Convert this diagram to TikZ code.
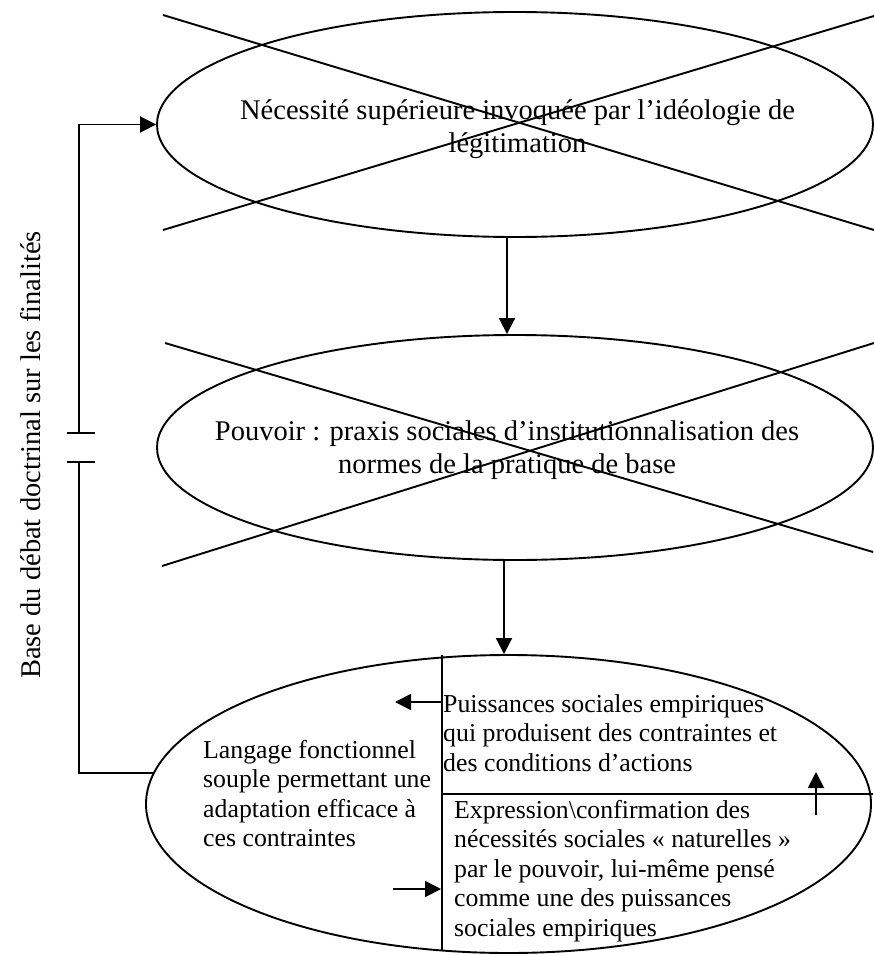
\documentclass[tikz,border=0pt]{standalone}
\usepackage{fontspec}
\setmainfont{Liberation Serif}
\usetikzlibrary{arrows.meta,shapes.geometric}
\begin{document}
\begin{tikzpicture}[x=1pt,y=-1pt,
  ln/.style={line width=1.9pt},
  arr/.style={ln,-{Triangle[length=16pt,width=16pt]}},
  oval/.style={ellipse,draw,ln,inner sep=0pt},
  bigtxt/.style={inner sep=0pt,font=\fontsize{28.5pt}{33pt}\selectfont},
  smalltxt/.style={inner sep=0pt,font=\fontsize{25.8pt}{29.5pt}\selectfont,align=left,anchor=base west}]
\useasboundingbox (0,0) rectangle (874,955);
% ellipses
\node[oval,minimum width=716pt,minimum height=225pt] (e1) at (515,124.5) {};
\node[oval,minimum width=716pt,minimum height=225pt] (e2) at (515,447.5) {};
\node[oval,minimum width=725pt,minimum height=298pt] (e3) at (508.5,804) {};
% crosses
\draw[ln] (163,15) -- (874,230);
\draw[ln] (163,230) -- (874,16);
\draw[ln] (165,343) -- (873,552);
\draw[ln] (162,566) -- (874,343);
% dividers in bottom ellipse
\draw[ln] (442,655) -- (442,951);
\draw[ln] (442,794) -- (873,794);
% texts (base anchor = baseline of the last line)
\node[bigtxt,align=center,anchor=base] (t1) at (517.5,153) {Nécessité supérieure invoquée par l’idéologie de\\légitimation};
\node[bigtxt,align=center,anchor=base] (t2) at (507,473) {Pouvoir : praxis sociales d’institutionnalisation des\\normes de la pratique de base};
\node[smalltxt] (t3) at (203,846.5) {Langage fonctionnel\\souple permettant une\\adaptation efficace à\\ces contraintes};
\node[smalltxt] (t4) at (443,771) {Puissances sociales empiriques\\qui produisent des contraintes et\\des conditions d’actions};
\node[smalltxt] (t5) at (454,936) {Expression\textbackslash confirmation des\\nécessités sociales «~naturelles~»\\par le pouvoir, lui-même pensé\\comme une des puissances\\sociales empiriques};
\node[bigtxt,rotate=90] (side) at (31,455) {Base du débat doctrinal sur les finalités};
% vertical arrows between ellipses
\coordinate (c1) at (507,0);
\coordinate (c2) at (504,0);
\draw[arr] (e1.south -| c1) -- (e2.north -| c1);
\draw[arr] (e2.south -| c2) -- (e3.north -| c2);
% left feedback loop
\coordinate (g1) at (79,433);
\coordinate (g2) at (79,462);
\draw[arr] (g1) |- (e1.west);
\draw[ln] (67,433) -- (95,433);
\draw[ln] (67,462) -- (95,462);
\draw[ln] (g2) |- (e3.175);
% small arrows in bottom ellipse
\coordinate (a1) at (442,702);
\coordinate (a2) at (395,702);
\draw[arr] (a1) -- (a2);
\coordinate (b1) at (393,889);
\coordinate (b2) at (441,889);
\draw[arr] (b1) -- (b2);
\coordinate (u1) at (816,815);
\coordinate (u2) at (816,772);
\draw[arr] (u1) -- (u2);
\end{tikzpicture}
\end{document}
